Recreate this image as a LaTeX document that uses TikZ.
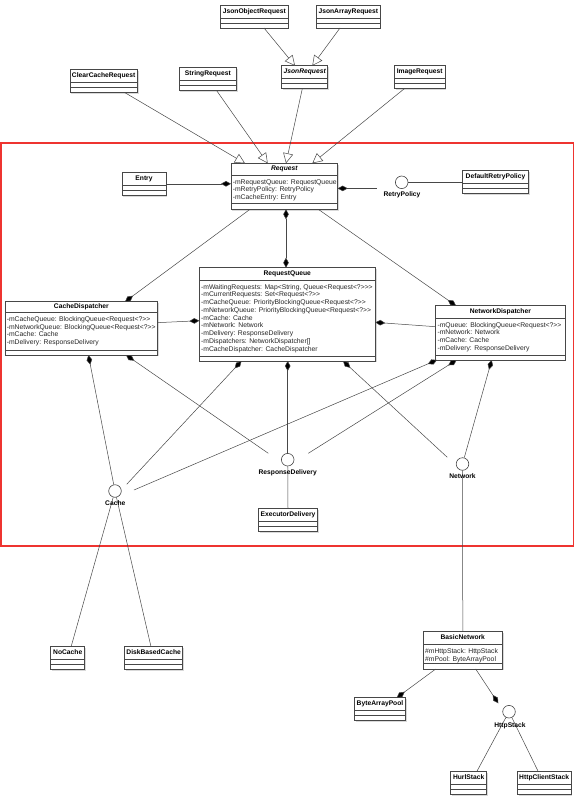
\documentclass[tikz,border=0pt]{standalone}
\usepackage{fontspec}
\setmainfont{Liberation Sans}
\usetikzlibrary{arrows.meta,fit,shadows}

\newcommand\dblgt{>\kern0pt>}
\newcommand\trigt{>\kern0pt>\kern0pt>}

\tikzset{
  clsbox/.style={draw=black!72, line width=0.65pt, fill=white, inner sep=0pt, outer sep=0pt,
    drop shadow={shadow xshift=1.4pt, shadow yshift=-1.4pt, fill=black!25, opacity=0.6}},
  clsline/.style={draw=black!72, line width=0.6pt},
  clstitle/.style={font=\fontsize{6.7}{7.7}\selectfont\bfseries, inner sep=0pt, text height=4.9pt, text depth=1.4pt},
  clsattr/.style={font=\fontsize{6.8}{7.75}\selectfont, inner sep=0pt, align=left, text=black!85},
  iface/.style={circle, draw=black!72, line width=0.6pt, fill=white, minimum size=12.6pt, inner sep=0pt},
  ilabel/.style={font=\fontsize{6.7}{7.7}\selectfont\bfseries, inner sep=0pt, text height=4.9pt, text depth=1.4pt},
  conn/.style={draw=black!72, line width=0.5pt},
  comp/.style={conn, -{Diamond[length=10pt,width=5.5pt,fill=black]}},
  compstart/.style={conn, {Diamond[length=10pt,width=5.5pt,fill=black]}-},
  compboth/.style={conn, {Diamond[length=10pt,width=5.5pt,fill=black]}-{Diamond[length=10pt,width=5.5pt,fill=black]}},
  gen/.style={conn, -{Triangle[open,length=10pt,width=10pt,fill=white]}},
  redframe/.style={draw={rgb,255:red,238;green,52;blue,48}, line width=1.7pt}
}

\newcommand\umlcls[9]{%
  \node[clsbox, fit={(#2,#3)(#4,#5)}] (#1) {};
  \draw[clsline] (#2,#6) -- (#4,#6) (#2,#7) -- (#4,#7);
  \node[clstitle] (#1-t) at ({(#2+#4)/2},{(#3+#6)/2}) {#8};
  \node[clsattr, anchor=north west] (#1-a) at ({#2+1.6},{#6+3.5}) {\rule{0pt}{5.3pt}#9};
}
\newcommand\umlsimple[5]{%
  \node[clsbox, fit={(#2,#3)(#4,#3+23)}] (#1) {};
  \draw[clsline] (#2,#3+13) -- (#4,#3+13) (#2,#3+18) -- (#4,#3+18);
  \node[clstitle] (#1-t) at ({(#2+#4)/2},{#3+6.5}) {#5};
}

\begin{document}
\begin{tikzpicture}[x=1pt, y=-1pt]
\useasboundingbox (0,0) rectangle (577,800);

% red frame
\draw[redframe] (1,142.7) rectangle (573.5,546);

% classes
\umlsimple{JsonObjectRequest}{220.7}{5}{288}{JsonObjectRequest}
\umlsimple{JsonArrayRequest}{316.7}{5}{380}{JsonArrayRequest}
\umlsimple{JsonRequest}{281.7}{65.7}{327.7}{\itshape JsonRequest}
\umlsimple{ClearCacheRequest}{70}{69.3}{137.3}{ClearCacheRequest}
\umlsimple{StringRequest}{179}{67.7}{236.7}{StringRequest}
\umlsimple{ImageRequest}{394.3}{65.7}{445}{ImageRequest}
\umlsimple{Entry}{122}{172.3}{166}{Entry}
\umlsimple{DefaultRetryPolicy}{462.7}{170.7}{528.3}{DefaultRetryPolicy}
\umlsimple{ExecutorDelivery}{258.3}{508.3}{317.7}{ExecutorDelivery}
\umlsimple{NoCache}{50.8}{646.7}{84.7}{NoCache}
\umlsimple{DiskBasedCache}{124.5}{646.7}{182.8}{DiskBasedCache}
\umlsimple{ByteArrayPool}{354.3}{697.7}{405.7}{ByteArrayPool}
\umlsimple{HurlStack}{450.7}{771.7}{486.7}{HurlStack}
\umlsimple{HttpClientStack}{517.3}{771.7}{571}{HttpClientStack}

\umlcls{Request}{231}{163.3}{337.7}{209.3}{175}{203.5}{\itshape Request}
  {-mRequestQueue: RequestQueue\\-mRetryPolicy: RetryPolicy\\-mCacheEntry: Entry}
\umlcls{RequestQueue}{199.3}{267.7}{375.3}{361}{280}{356}{RequestQueue}
  {-mWaitingRequests: Map<String, Queue<Request<?\trigt\\-mCurrentRequests: Set<Request<?\dblgt\\-mCacheQueue: PriorityBlockingQueue<Request<?\dblgt\\-mNetworkQueue: PriorityBlockingQueue<Request<?\dblgt\\-mCache: Cache\\-mNetwork: Network\\-mDelivery: ResponseDelivery\\-mDispatchers: NetworkDispatcher[]\\-mCacheDispatcher: CacheDispatcher}
\umlcls{CacheDispatcher}{5}{301.7}{157.7}{355}{312.3}{350}{CacheDispatcher}
  {-mCacheQueue: BlockingQueue<Request<?\dblgt\\-mNetworkQueue: BlockingQueue<Request<?\dblgt\\-mCache: Cache\\-mDelivery: ResponseDelivery}
\umlcls{NetworkDispatcher}{435.7}{305.7}{565}{360}{318}{355.5}{NetworkDispatcher}
  {-mQueue: BlockingQueue<Request<?\dblgt\\-mNetwork: Network\\-mCache: Cache\\-mDelivery: ResponseDelivery}
\umlcls{BasicNetwork}{423.3}{631.7}{502.3}{669}{644.5}{663.5}{BasicNetwork}
  {\#mHttpStack: HttpStack\\\#mPool: ByteArrayPool}

% interfaces
\node[iface] (RetryPolicy) at (401.7,182.3) {};
\node[iface] (Cache) at (115,491) {};
\node[iface] (ResponseDelivery) at (287.7,459.7) {};
\node[iface] (Network) at (462.5,464) {};
\node[iface] (HttpStack) at (509,711.7) {};

% free ends
\coordinate (rpEnd) at (377,188.4);
\coordinate (rdA) at (268.3,453.3);
\coordinate (rdB) at (308.3,453.3);
\coordinate (cA) at (126.7,484.3);
\coordinate (cB) at (134,490);
\coordinate (nA) at (447.3,457.3);
\coordinate (hsA) at (498.3,703.3);

% generalisations
\draw[gen] ([xshift=43.3pt]JsonObjectRequest.south west) -- ([xshift=13.3pt]JsonRequest.north west);
\draw[gen] ([xshift=23.3pt]JsonArrayRequest.south west) -- ([xshift=30.6pt]JsonRequest.north west);
\draw[gen] ([xshift=54.3pt]ClearCacheRequest.south west) -- ([xshift=14pt]Request.north west);
\draw[gen] ([xshift=37.7pt]StringRequest.south west) -- ([xshift=36.7pt]Request.north west);
\draw[gen] ([xshift=20.6pt]JsonRequest.south west) -- ([xshift=55pt]Request.north west);
\draw[gen] ([xshift=10pt]ImageRequest.south west) -- ([xshift=81.3pt]Request.north west);

% compositions around Request
\draw[comp] (Entry.east) -- (Entry.east -| Request.west);
\draw[compstart] (Request.east |- rpEnd) -- (rpEnd);
\draw[conn] (RetryPolicy.east) -- (RetryPolicy.east -| DefaultRetryPolicy.west);
\draw[compboth] ([xshift=55pt]Request.south west) -- ([xshift=86.7pt]RequestQueue.north west);
\draw[comp] ([xshift=19pt]Request.south west) -- ([xshift=120pt]CacheDispatcher.north west);
\draw[comp] ([xshift=87.3pt]Request.south west) -- ([xshift=20.3pt]NetworkDispatcher.north west);

% dispatchers and queue
\draw[comp] ([yshift=5.7pt]CacheDispatcher.east) -- ([yshift=-6.35pt]RequestQueue.west);
\draw[comp] ([yshift=6.15pt]NetworkDispatcher.west) -- ([yshift=-8pt]RequestQueue.east);

\draw[compstart] ([xshift=83.4pt]CacheDispatcher.south west) -- (Cache);
\draw[compstart] ([xshift=121pt]CacheDispatcher.south west) -- (rdA);
\draw[compstart] ([xshift=42.2pt]RequestQueue.south west) -- (cA);
\draw[compstart] ([xshift=88.4pt]RequestQueue.south west) -- (ResponseDelivery);
\draw[compstart] ([xshift=143.7pt]RequestQueue.south west) -- (nA);
\draw[compstart] ([xshift=1.3pt]NetworkDispatcher.south west) -- (cB);
\draw[compstart] ([xshift=21pt]NetworkDispatcher.south west) -- (rdB);
\draw[compstart] ([xshift=56pt]NetworkDispatcher.south west) -- (Network);

% realisations
\draw[conn] (ResponseDelivery) -- (ExecutorDelivery.north);
\draw[conn] (Network) -- (BasicNetwork.north);
\draw[conn] (Cache) -- ([xshift=20.3pt]NoCache.north west);
\draw[conn] (Cache) -- ([xshift=26.5pt]DiskBasedCache.north west);
\draw[comp] ([xshift=12.4pt]BasicNetwork.south west) -- ([xshift=42.4pt]ByteArrayPool.north west);
\draw[comp] ([xshift=52.4pt]BasicNetwork.south west) -- (hsA);
\draw[conn] (HttpStack) -- ([xshift=26pt]HurlStack.north west);
\draw[conn] (HttpStack) -- ([xshift=21pt]HttpClientStack.north west);

% interface labels
\node[ilabel] (RetryPolicy-l) at (402,195) {RetryPolicy};
\node[ilabel] (Cache-l) at (115.3,504) {Cache};
\node[ilabel] (ResponseDelivery-l) at (287.7,472.7) {ResponseDelivery};
\node[ilabel] (Network-l) at (462.5,476.7) {Network};
\node[ilabel] (HttpStack-l) at (510,725.7) {HttpStack};
\end{tikzpicture}
\end{document}
